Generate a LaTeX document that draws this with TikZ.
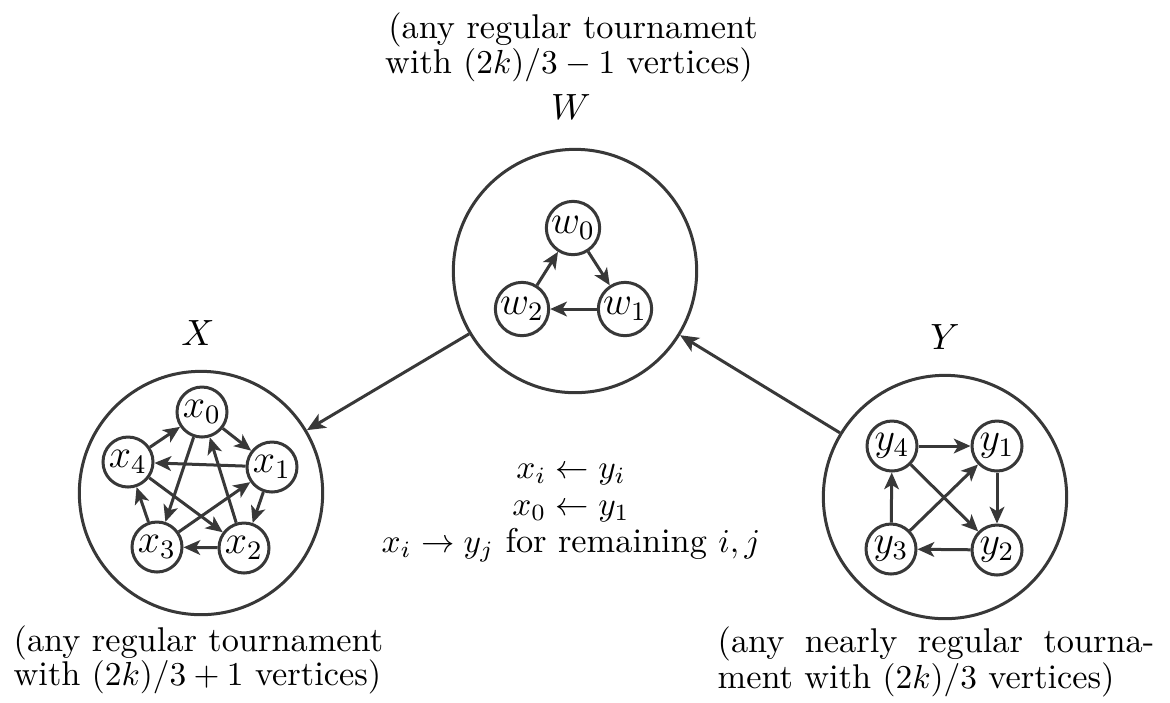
\documentclass[tikz,border=0pt]{standalone}
\usetikzlibrary{arrows.meta}
\definecolor{edgegray}{HTML}{383838}
\begin{document}
\begin{tikzpicture}[x=0.3pt,y=-0.3pt,
  txt/.style={font=\fontsize{10.3pt}{12pt}\selectfont,inner sep=0pt,text=black},
  big/.style={circle,draw=edgegray,line width=0.9pt,minimum size=73pt,inner sep=0pt},
  vtx/.style={circle,draw=edgegray,line width=0.9pt,minimum size=15pt,inner sep=0pt,font=\fontsize{11.5pt}{13pt}\selectfont},
  wvtx/.style={vtx,minimum size=16pt,font=\fontsize{12pt}{13pt}\selectfont},
  arr/.style={draw=edgegray,line width=0.9pt,-{Stealth[length=5pt,width=4.4pt,inset=1.3pt]}},
  bigarr/.style={draw=edgegray,line width=0.9pt,-{Stealth[length=5.5pt,width=4.8pt,inset=1.4pt]}}]
\useasboundingbox (0,0) rectangle (1170,702);

% big circles
\node[big] (W) at (575,271) {};
\node[big] (X) at (201,493) {};
\node[big] (Y) at (945,497) {};

% labels
\node[txt,anchor=base,font=\fontsize{11pt}{12pt}\selectfont] (Wl) at (571,119) {$W$};
\node[txt,anchor=base,font=\fontsize{11pt}{12pt}\selectfont] (Xl) at (198,345) {$X$};
\node[txt,anchor=base,font=\fontsize{11pt}{12pt}\selectfont] (Yl) at (945,349) {$Y$};

% top text
\node[txt,anchor=base] (t1) at (573,38) {(any regular tournament};
\node[txt,anchor=base] (t2) at (569,73) {with $(2k)/3-1$ vertices)};

% bottom-left text
\node[txt,anchor=base west] (bl1) at (13,651) {(any regular tournament};
\node[txt,anchor=base west] (bl2) at (13,685) {with $(2k)/3+1$ vertices)};

% bottom-right text
\node[txt,anchor=base west] (br1) at (717,652) {\makebox[131pt][s]{(any nearly regular tourna-}};
\node[txt,anchor=base west] (br2) at (717,688) {ment with $(2k)/3$ vertices)};

% middle text
\node[txt,anchor=base] (m1) at (571,478) {$x_i\leftarrow y_i$};
\node[txt,anchor=base] (m2) at (571,515) {$x_0\leftarrow y_1$};
\node[txt,anchor=base] (m3) at (571,552) {$x_i\rightarrow y_j$ for remaining $i,j$};

% W vertices
\node[wvtx] (w0) at (573,228) {$w_0$};
\node[wvtx] (w1) at (625,309) {$w_1$};
\node[wvtx] (w2) at (522,309) {$w_2$};
\draw[arr] (w0) -- (w1);
\draw[arr] (w1) -- (w2);
\draw[arr] (w2) -- (w0);

% X vertices
\node[vtx] (x0) at (202,412) {$x_0$};
\node[vtx] (x1) at (272,467) {$x_1$};
\node[vtx] (x2) at (244,548) {$x_2$};
\node[vtx] (x3) at (157,547) {$x_3$};
\node[vtx] (x4) at (128,462) {$x_4$};
\draw[arr] (x0) -- (x1);
\draw[arr] (x1) -- (x2);
\draw[arr] (x2) -- (x3);
\draw[arr] (x3) -- (x4);
\draw[arr] (x4) -- (x0);
\draw[arr] (x0) -- (x3);
\draw[arr] (x3) -- (x1);
\draw[arr] (x1) -- (x4);
\draw[arr] (x4) -- (x2);
\draw[arr] (x2) -- (x0);

% Y vertices
\node[vtx] (y4) at (892,446) {$y_4$};
\node[vtx] (y1) at (997,446) {$y_1$};
\node[vtx] (y3) at (891,549) {$y_3$};
\node[vtx] (y2) at (997,550) {$y_2$};
\draw[arr] (y4) -- (y1);
\draw[arr] (y1) -- (y2);
\draw[arr] (y2) -- (y3);
\draw[arr] (y3) -- (y4);
\draw[arr] (y3) -- (y1);
\draw[arr] (y4) -- (y2);

% between parts
\draw[bigarr] (W) -- (X);
\draw[bigarr] (Y) -- (W);
\end{tikzpicture}
\end{document}
